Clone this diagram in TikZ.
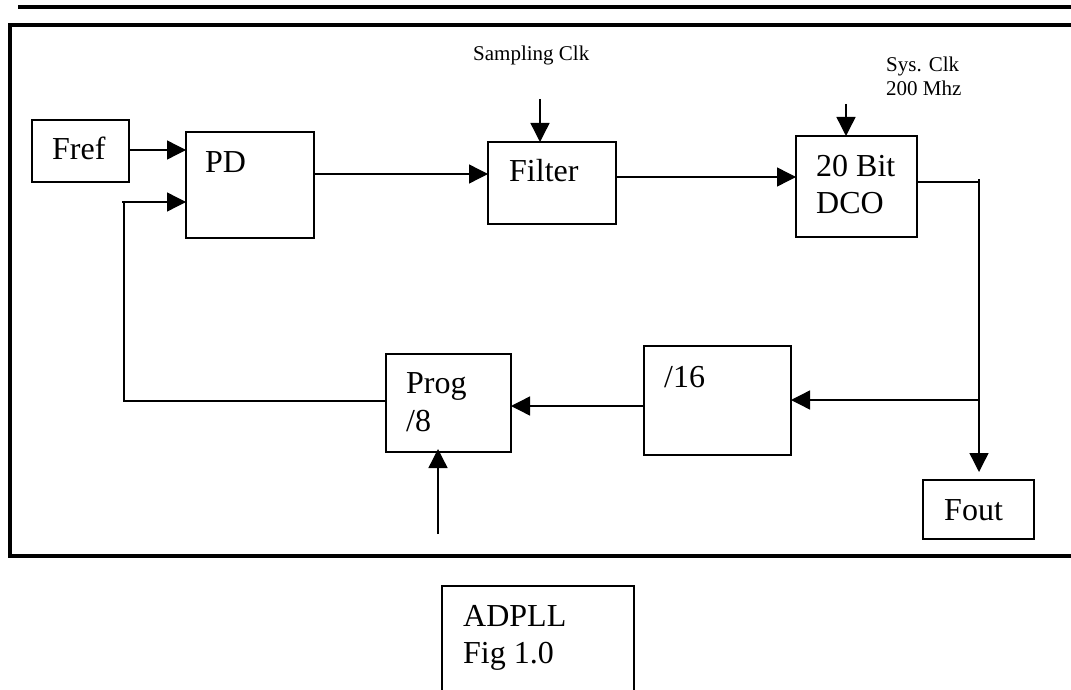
\documentclass[tikz,border=0pt]{standalone}
\usepackage{fontspec}
\setmainfont{Liberation Serif}
\usetikzlibrary{arrows.meta}
\newcommand\lblfont{\fontsize{32}{37}\selectfont}
\newcommand\smfont{\fontsize{21}{24}\selectfont}
\begin{document}
\begin{tikzpicture}[x=1pt,y=-1pt,
  box/.style={draw, line width=1.3pt, inner sep=0pt, outer sep=0pt, anchor=north west},
  txt/.style={anchor=base west, inner sep=0pt, font=\lblfont},
  small/.style={anchor=base west, inner sep=0pt, font=\smfont},
  conn/.style={line width=1.4pt},
  arr/.style={conn, -{Triangle[length=19pt,width=19pt]}},
  heavy/.style={line width=4.5pt, line join=miter}]
\useasboundingbox (0,0) rectangle (1071,690);
\fill[white] (0,0) rectangle (1071,690);

% heavy rules / frame
\draw[line width=4pt] (18,7) -- (1075,7);
\draw[heavy] (1080,25) -- (10,25) -- (10,556) -- (1080,556);

% boxes
\node[box, minimum width=97pt,  minimum height=62pt]  (fref)   at (32,120)  {};
\node[box, minimum width=128pt, minimum height=106pt] (pd)     at (186,132) {};
\node[box, minimum width=128pt, minimum height=82pt]  (filter) at (488,142) {};
\node[box, minimum width=121pt, minimum height=101pt] (dco)    at (796,136) {};
\node[box, minimum width=147pt, minimum height=109pt] (div16)  at (644,346) {};
\node[box, minimum width=125pt, minimum height=98pt]  (prog)   at (386,354) {};
\node[box, minimum width=111pt, minimum height=59pt]  (fout)   at (923,480) {};
\node[box, minimum width=192pt, minimum height=140pt] (adpll)  at (442,586) {};

% texts
\node[txt] (tfref)   at (52,160)  {Fref};
\node[txt] (tpd)     at (205,172) {PD};
\node[txt] (tfilter) at (509,182) {Filter};
\node[txt] (tdcoa)   at (816,176) {20 Bit};
\node[txt] (tdcob)   at (816,213) {DCO};
\node[txt] (tdiv)    at (664,387) {/16};
\node[txt] (tproga)  at (406,393) {Prog};
\node[txt] (tprogb)  at (406,431) {/8};
\node[txt] (tfout)   at (944,520) {Fout};
\node[txt] (tadpa)   at (463,626) {ADPLL};
\node[txt] (tadpb)   at (463,663) {Fig 1.0};
\node[small] (tsamp) at (473,61)  {Sampling Clk};
\node[small] (tsysa) at (886,72)  {Sys. Clk};
\node[small] (tsysb) at (886,96)  {200 Mhz};

% connectors
\draw[arr] (fref.east |- 0,150) -- (pd.west |- 0,150);
\coordinate (fbtop) at (122,202);
\coordinate (fbcorner) at (124,202);
\draw[conn] (prog.west |- 0,401) -| (fbcorner);
\draw[arr] (fbtop) -- (pd.west |- fbtop);
\draw[arr] (pd.east |- 0,174) -- (filter.west |- 0,174);
\draw[arr] (filter.east |- 0,177) -- (dco.west |- 0,177);
\coordinate (sclk) at (540,99);
\draw[arr] (sclk) -- (sclk |- filter.north);
\coordinate (sysclk) at (846,104);
\draw[arr] (sysclk) -- (sysclk |- dco.north);
\coordinate (tap) at (979,182);
\coordinate (taptop) at (979,179);
\draw[conn] (dco.east |- tap) -- (tap);
\draw[arr, shorten >=8pt] (taptop) -- (taptop |- fout.north);
\coordinate (split) at (979,400);
\draw[arr] (split) -- (div16.east |- split);
\draw[arr] (div16.west |- 0,406) -- (prog.east |- 0,406);
\coordinate (pin) at (438,534);
\draw[arr, shorten >=-3pt] (pin) -- (pin |- prog.south);
\end{tikzpicture}
\end{document}
